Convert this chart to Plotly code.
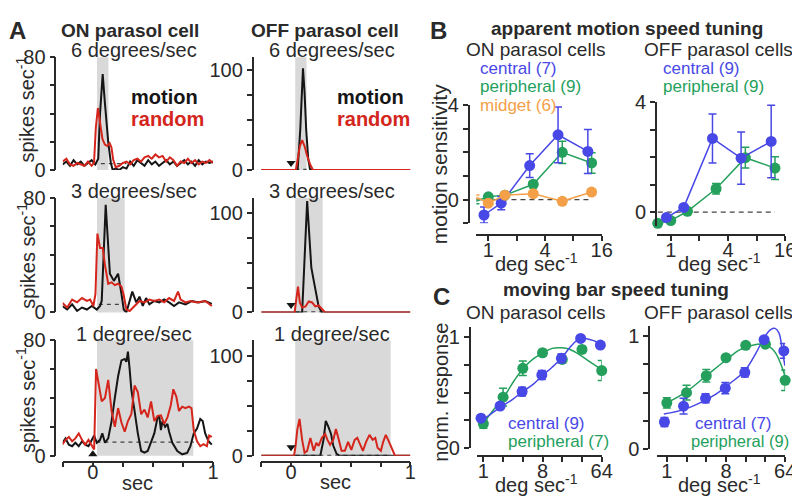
import plotly.graph_objects as go

# ================= Panel A data: PSTHs (time [s], rate [spikes/s]) =================
on_motion_6 = [(-0.25,4),(-0.22,6),(-0.19,3),(-0.16,7),(-0.13,4),(-0.10,6),(-0.07,3),(-0.04,5),(-0.01,7),
               (0.02,4),(0.045,8),(0.06,40),(0.082,68),(0.10,48),(0.128,20),(0.15,5),(0.165,0),(0.19,1),
               (0.22,0),(0.25,2),(0.28,1),(0.31,6),(0.34,3),(0.37,7),(0.40,5),(0.43,3),(0.46,7),(0.49,4),
               (0.52,6),(0.55,3),(0.58,5),(0.61,7),(0.64,4),(0.67,6),(0.70,3),(0.73,5),(0.76,7),(0.79,4),
               (0.82,6),(0.85,3),(0.88,7),(0.91,4),(0.94,6),(0.97,5),(1.0,6)]
on_random_6 = [(-0.25,6),(-0.22,8),(-0.19,4),(-0.16,3),(-0.13,5),(-0.10,4),(-0.07,3),(-0.04,6),(-0.01,3),
               (0.01,5),(0.025,30),(0.042,44),(0.06,32),(0.08,22),(0.10,18),(0.12,17),(0.14,19),(0.155,16),
               (0.17,7),(0.19,2),(0.22,3),(0.25,5),(0.28,6),(0.31,4),(0.34,7),(0.37,8),(0.40,6),(0.43,9),
               (0.46,10),(0.49,8),(0.52,11),(0.55,9),(0.58,10),(0.61,6),(0.64,9),(0.67,7),(0.70,3),(0.73,6),
               (0.76,5),(0.79,8),(0.82,5),(0.85,7),(0.88,4),(0.91,6),(0.94,5),(0.97,7),(1.0,5)]
on_motion_3 = [(-0.254,4.5),(-0.213,2),(-0.172,5.6),(-0.131,1),(-0.09,3.4),(-0.049,2),(-0.008,4.5),(0.033,2),
               (0.06,4.5),(0.074,8),(0.107,75),(0.142,27),(0.175,22),(0.21,27),(0.238,13),(0.257,2),(0.279,0),
               (0.306,9),(0.328,14.5),(0.361,7),(0.388,11),(0.415,4.5),(0.443,10),(0.47,5.6),(0.511,8),
               (0.552,7),(0.593,9),(0.634,7),(0.675,4.5),(0.716,7),(0.77,5.6),(0.825,8),(0.88,7),(0.934,8),(0.989,6)]
on_random_3 = [(-0.254,6.7),(-0.213,3.4),(-0.172,9),(-0.131,7),(-0.09,10),(-0.049,8),(-0.022,9),(0.005,4.5),
               (0.022,13),(0.038,55),(0.06,45),(0.082,45),(0.101,33),(0.128,20),(0.156,21),(0.183,19),(0.21,20),
               (0.238,18),(0.257,12),(0.279,2),(0.306,1),(0.347,4.5),(0.388,8),(0.429,7),(0.47,9),(0.511,8),
               (0.552,9),(0.593,7),(0.634,10),(0.675,8),(0.708,14.5),(0.73,9),(0.77,7),(0.811,8),(0.866,7),
               (0.934,8),(0.989,4.5)]
on_motion_1 = [(-0.254,8.8),(-0.227,12),(-0.199,7.7),(-0.172,6.6),(-0.145,9),(-0.117,6.6),(-0.09,10),(-0.063,7.7),
               (-0.036,6.6),(-0.008,11),(0.011,14),(0.033,9),(0.06,11),(0.079,15.5),(0.101,9),(0.128,12),(0.156,24),
               (0.183,40),(0.21,55),(0.238,66),(0.265,67),(0.279,65),(0.292,72),(0.306,60),(0.32,46),(0.347,31),
               (0.374,15.5),(0.402,3.3),(0.429,2.2),(0.456,3.3),(0.484,9),(0.511,15.5),(0.538,26.5),(0.552,27.6),
               (0.566,17.7),(0.579,24),(0.601,20),(0.62,22),(0.634,16.6),(0.661,9),(0.702,3.3),(0.743,1),(0.784,2),
               (0.811,6.6),(0.839,15.5),(0.866,18.8),(0.893,25.4),(0.913,24),(0.934,15.5),(0.962,10),(0.989,7.7)]
on_random_1 = [(-0.254,7.7),(-0.227,11),(-0.199,13),(-0.172,10),(-0.145,12),(-0.117,15.5),(-0.09,11),(-0.063,7.7),
               (-0.036,11),(-0.008,6.6),(0.011,4.4),(0.027,60),(0.046,51),(0.074,37.6),(0.101,40),(0.128,52.5),
               (0.156,31),(0.183,20),(0.21,33),(0.238,23),(0.265,16.6),(0.292,24),(0.32,28.7),(0.347,48.6),
               (0.374,44),(0.402,28.7),(0.429,32),(0.456,26.5),(0.484,37.6),(0.511,24),(0.538,27.6),(0.566,28),
               (0.593,22),(0.62,26.5),(0.648,35),(0.669,46),(0.694,41),(0.716,31),(0.743,34),(0.77,33),(0.798,34),
               (0.82,33),(0.839,17.7),(0.866,10),(0.893,6.6),(0.921,8),(0.948,6.6),(0.967,14),(0.989,13)]

off_motion_6 = [(-0.25,0),(0.055,0),(0.077,40),(0.088,78),(0.1,102),(0.113,78),(0.127,40),(0.144,11),(0.16,0),(1.0,0)]
off_random_6 = [(-0.25,0),(0.04,0),(0.052,8),(0.074,24),(0.093,30),(0.113,24),(0.135,14),(0.162,5),(0.184,0),(1.0,0)]
off_motion_3 = [(-0.25,0),(0.093,0),(0.135,112),(0.154,77),(0.17,45),(0.19,32),(0.209,19),(0.231,6),(0.258,0),(1.0,0)]
off_random_3 = [(-0.25,0),(0.03,0),(0.044,13),(0.058,26),(0.074,10),(0.093,5),(0.121,6),(0.148,11),(0.176,10),
                (0.203,6),(0.231,7),(0.258,3),(0.286,0),(1.0,0)]
off_motion_1 = [(-0.25,0),(0.245,0),(0.272,16),(0.291,35),(0.313,29),(0.335,22),(0.354,10),(0.382,2),(0.409,0),(1.0,0)]
off_random_1 = [(-0.25,0),(0.025,0),(0.038,10),(0.052,26),(0.071,37),(0.093,16),(0.113,3),(0.135,5),(0.162,18),
                (0.19,5),(0.212,13),(0.231,10),(0.258,18),(0.286,22),(0.305,16),(0.327,11),(0.354,16),(0.376,27),
                (0.396,18),(0.423,5),(0.451,5),(0.478,14),(0.505,6),(0.533,16),(0.555,18),(0.574,13),(0.602,5),
                (0.629,14),(0.657,21),(0.684,16),(0.706,18),(0.725,8),(0.753,5),(0.772,14),(0.794,21),(0.821,14),
                (0.849,5),(0.871,0),(1.0,0)]

stim_6 = [0.035, 0.13]
stim_3 = [0.035, 0.265]
stim_1 = [0.035, 0.835]
on_baseline = [4.5, 5.6, 9.5]
dash_6 = [0.0, 0.28]
dash_3 = [0.05, 0.26]
dash_1 = [0.03, 0.84]
off_baseline = [0.5, 0.5, 0.5]
speed_titles = ["6 degrees/sec", "3 degrees/sec", "1 degree/sec"]

a_time_ticks = [-0.25, 0, 0.25, 0.5, 0.75, 1]
a_time_text = ["", "0", "", "", "", "1"]
a_on_ticks = [0, 20, 40, 60, 80]
a_on_text = ["0", "", "", "", "80"]
a_off_ticks = [0, 25, 50, 75, 100]
a_off_text = ["0", "", "", "", "100"]

# ================= Panel B data: apparent motion speed tuning =================
b_speed_central = [0.9, 1.37, 2.75, 5.5, 11.4]
b_speed_other = [0.73, 1, 1.5, 3, 6.1, 12.5]
b_on_central = [-0.65, -0.15, 1.44, 2.74, 2.04]
b_on_central_err = [0.34, 0.28, 0.5, 1.18, 0.93]
b_on_periph = [-0.07, 0.12, 0.19, 0.65, 2.0, 1.55]
b_on_periph_err = [0.1, 0.1, 0.1, 0.12, 0.47, 0.43]
b_on_midget = [0.12, -0.15, 0.19, 0.25, -0.07, 0.32]
b_on_midget_err = [0.08, 0.1, 0.08, 0.1, 0.12, 0.1]
b_off_central = [-0.2, 0.17, 2.68, 1.96, 2.57]
b_off_central_err = [0.1, 0.08, 0.89, 0.95, 1.32]
b_off_periph = [-0.41, -0.31, 0.03, 0.85, 1.98, 1.6]
b_off_periph_err = [0.05, 0.05, 0.08, 0.19, 0.38, 0.41]
b_xticks = [1, 2, 4, 8, 16]
b_xtext = ["1", "", "4", "", "16"]

# ================= Panel C data: moving bar speed tuning =================
c_speed_central = [0.92, 1.8, 3.9, 7.8, 15.5, 30.5, 61]
c_speed_periph = [1, 2, 4, 8, 16, 32, 64]
c_on_central = [0.27, 0.38, 0.51, 0.66, 0.81, 0.99, 0.93]
c_on_central_err = [0.03, 0.03, 0.04, 0.04, 0.04, 0.02, 0.03]
c_on_periph = [0.22, 0.46, 0.72, 0.86, 0.80, 0.89, 0.70]
c_on_periph_err = [0.04, 0.08, 0.065, 0.03, 0.03, 0.03, 0.09]
c_off_central = [0.24, 0.38, 0.45, 0.54, 0.68, 0.97, 0.87]
c_off_central_err = [0.04, 0.07, 0.04, 0.05, 0.04, 0.02, 0.065]
c_off_periph = [0.41, 0.50, 0.65, 0.81, 0.92, 0.93, 0.61]
c_off_periph_err = [0.045, 0.065, 0.055, 0.02, 0.02, 0.02, 0.09]
# fitted curves
c_on_central_fit_x = [0.93, 1.25, 1.82, 2.8, 3.95, 5.6, 8.1, 11.2, 15.5, 21, 26.6, 33.5, 42, 53, 63]
c_on_central_fit_y = [0.25, 0.30, 0.37, 0.44, 0.51, 0.57, 0.66, 0.73, 0.81, 0.91, 0.97, 0.99, 0.98, 0.96, 0.93]
c_on_periph_fit_x = [0.99, 1.4, 2.05, 2.96, 4.2, 5.9, 8.1, 11.2, 15.5, 21, 30, 42, 56, 66]
c_on_periph_fit_y = [0.22, 0.34, 0.46, 0.61, 0.73, 0.81, 0.86, 0.90, 0.905, 0.89, 0.84, 0.78, 0.73, 0.70]
c_off_central_fit_x = [0.9, 1.8, 3.2, 5.7, 9.1, 15.3, 22.9, 30.6, 38.5, 44.8, 51.4, 57.7, 63.3]
c_off_central_fit_y = [0.31, 0.35, 0.41, 0.49, 0.58, 0.69, 0.85, 0.99, 1.06, 1.07, 1.03, 0.88, 0.74]
c_off_periph_fit_x = [1, 2, 4, 8, 12.9, 20.4, 28.8, 36.4, 45.8, 57.7, 66]
c_off_periph_fit_y = [0.41, 0.51, 0.65, 0.79, 0.88, 0.92, 0.93, 0.91, 0.85, 0.72, 0.61]
c_xticks = [1, 2, 4, 8, 16, 32, 64]
c_xtext = ["1", "", "", "8", "", "", "64"]
c_yticks = [0, 0.25, 0.5, 0.75, 1]
c_ytext = ["0", "", "", "", "1"]

# ================= styling / layout helpers =================
W, H = 800, 497
FONT = "Liberation Sans, Arial, sans-serif"
BLACK = "#151515"
RED = "#d4261c"
BLUE = "#4848e6"
GREEN = "#24a05c"
ORANGE = "#f4a048"
SHADE = "#d9d9d9"
AXC = "#2a2a2a"


def fx(p):
    return p / W


def fy(p):
    return 1 - p / H


fig = go.Figure()
layout = dict(width=W, height=H, margin=dict(l=0, r=0, t=0, b=0),
              paper_bgcolor="white", plot_bgcolor="rgba(0,0,0,0)",
              showlegend=False, font=dict(family=FONT, size=20, color=AXC))

axis_common = dict(showgrid=False, zeroline=False, showline=True, linecolor=AXC, linewidth=1.5,
                   ticks="outside", ticklen=5, tickwidth=1.5, tickcolor=AXC,
                   tickfont=dict(family=FONT, size=20, color=AXC), fixedrange=True)


def set_axis(name, **kw):
    d = dict(axis_common)
    d.update(kw)
    layout[name] = d


# ---------- Panel A axes ----------
a_rows = [(40, 158), (187, 307), (336, 457)]
off_tops = [113, 115.4, 116.3]
for r, (top, bot) in enumerate(a_rows):
    i_on, i_off = 2 * r + 1, 2 * r + 2
    for idx, (x0, x1, ypos, ytop, tv, tt) in zip(
            (i_on, i_off),
            ((55.5, 208, 48, 80, a_on_ticks, a_on_text),
             (256.75, 408, 248, off_tops[r], a_off_ticks, a_off_text))):
        xn = "xaxis" if idx == 1 else f"xaxis{idx}"
        yn = "yaxis" if idx == 1 else f"yaxis{idx}"
        if r == 2:
            set_axis(xn, domain=[fx(x0), fx(x1)], range=[-0.25, 1.0], anchor="free",
                     position=fy(463), tickvals=a_time_ticks, ticktext=a_time_text,
                     ticklabelstandoff=-12)
        else:
            set_axis(xn, domain=[fx(x0), fx(x1)], range=[-0.25, 1.0], visible=False,
                     anchor=f"y{idx}")
        set_axis(yn, domain=[fy(bot), fy(top)], range=[0, ytop], anchor="free",
                 position=fx(ypos), tickvals=tv, ticktext=tt)

# ---------- Panel B axes ----------
set_axis("xaxis7", type="log", domain=[fx(475), fx(602)], range=[-0.1257, 1.2041],
         anchor="free", position=fy(226), tickvals=b_xticks, ticktext=b_xtext, ticklabelstandoff=-8)
set_axis("yaxis7", domain=[fy(213.75), fy(90)], range=[-1, 4], anchor="free", position=fx(467),
         tickvals=[-1, 0, 1, 2, 3, 4], ticktext=["", "0", "", "", "", "4"])
set_axis("xaxis8", type="log", domain=[fx(658), fx(788)], range=[-0.145, 1.2041],
         anchor="free", position=fy(226), tickvals=b_xticks, ticktext=b_xtext, ticklabelstandoff=-8)
set_axis("yaxis8", domain=[fy(216.4), fy(87)], range=[-0.5, 4], anchor="free", position=fx(657),
         tickvals=[0, 1, 2, 3, 4], ticktext=["0", "", "", "", "4"])

# ---------- Panel C axes ----------
set_axis("xaxis9", type="log", domain=[fx(476), fx(602)], range=[-0.0904, 1.8062],
         anchor="free", position=fy(457), tickvals=c_xticks, ticktext=c_xtext, ticklabelstandoff=-8)
set_axis("yaxis9", domain=[fy(449), fy(322)], range=[0, 1.095], anchor="free", position=fx(468),
         tickvals=c_yticks, ticktext=c_ytext)
set_axis("xaxis10", type="log", domain=[fx(658), fx(788)], range=[-0.1506, 1.8062],
         anchor="free", position=fy(457), tickvals=c_xticks, ticktext=c_xtext, ticklabelstandoff=-8)
set_axis("yaxis10", domain=[fy(450), fy(321)], range=[0, 1.093], anchor="free", position=fx(650),
         tickvals=c_yticks, ticktext=c_ytext)

fig.update_layout(**layout)


def ref(i):
    return ("x" if i == 1 else f"x{i}"), ("y" if i == 1 else f"y{i}")


# ---------- Panel A traces ----------
on_sets = [(on_motion_6, on_random_6), (on_motion_3, on_random_3), (on_motion_1, on_random_1)]
off_sets = [(off_motion_6, off_random_6), (off_motion_3, off_random_3), (off_motion_1, off_random_1)]
stims = [stim_6, stim_3, stim_1]
dashes = [dash_6, dash_3, dash_1]
on_tri_y = [-4.0, -4.0, 1.0]
off_tri_y = [7.0, 7.5, 8.5]

for r in range(3):
    for col, sets in ((0, on_sets), (1, off_sets)):
        idx = 2 * r + 1 + col
        xr, yr = ref(idx)
        fig.add_shape(type="rect", xref=xr, yref=f"{yr} domain", x0=stims[r][0], x1=stims[r][1],
                      y0=0, y1=1, fillcolor=SHADE, line=dict(width=0), layer="below")
        if col == 0:
            bx = dashes[r]
            by = [on_baseline[r], on_baseline[r]]
        else:
            bx = stims[r]
            by = [off_baseline[r], off_baseline[r]]
        fig.add_trace(go.Scatter(x=bx, y=by, mode="lines", xaxis=xr, yaxis=yr,
                                 line=dict(color="#444444", width=1.3, dash="4px,4px"), hoverinfo="skip"))
        mot, rnd = sets[r]
        for series, color in ((mot, BLACK), (rnd, RED)):
            t, v = zip(*series)
            fig.add_trace(go.Scatter(x=list(t), y=list(v), mode="lines", xaxis=xr, yaxis=yr,
                                     line=dict(color=color, width=2), hoverinfo="skip"))
        fig.add_trace(go.Scatter(x=[0], y=[on_tri_y[r] if col == 0 else off_tri_y[r]], mode="markers",
                                 xaxis=xr, yaxis=yr, cliponaxis=False,
                                 marker=dict(symbol="triangle-up" if col == 0 else "triangle-down",
                                             size=8, color=BLACK, line=dict(width=0)),
                                 hoverinfo="skip"))


def err_series(x, y, e, color, xa, ya, size=11, mode="lines+markers"):
    fig.add_trace(go.Scatter(x=x, y=y, mode=mode, xaxis=xa, yaxis=ya, cliponaxis=False,
                             line=dict(color=color, width=1.5),
                             marker=dict(size=size, color=color, line=dict(width=0)),
                             error_y=dict(type="data", array=e, color=color, thickness=1.5, width=4),
                             hoverinfo="skip"))


# ---------- Panel B traces ----------
fig.add_trace(go.Scatter(x=[b_speed_other[0], b_speed_other[-1]], y=[0, 0], mode="lines", xaxis="x7",
                         yaxis="y7", line=dict(color="#444444", width=1.3, dash="5px,4px"), hoverinfo="skip"))
fig.add_trace(go.Scatter(x=[b_speed_other[0], b_speed_other[-1]], y=[0, 0], mode="lines", xaxis="x8",
                         yaxis="y8", line=dict(color="#444444", width=1.3, dash="5px,4px"), hoverinfo="skip"))
err_series(b_speed_other, b_on_periph, b_on_periph_err, GREEN, "x7", "y7")
err_series(b_speed_central, b_on_central, b_on_central_err, BLUE, "x7", "y7")
err_series(b_speed_other, b_on_midget, b_on_midget_err, ORANGE, "x7", "y7")
err_series(b_speed_other, b_off_periph, b_off_periph_err, GREEN, "x8", "y8")
err_series(b_speed_central, b_off_central, b_off_central_err, BLUE, "x8", "y8")

# ---------- Panel C traces ----------
for fx_, fy_, color, xa, ya in ((c_on_periph_fit_x, c_on_periph_fit_y, GREEN, "x9", "y9"),
                                (c_on_central_fit_x, c_on_central_fit_y, BLUE, "x9", "y9"),
                                (c_off_periph_fit_x, c_off_periph_fit_y, GREEN, "x10", "y10"),
                                (c_off_central_fit_x, c_off_central_fit_y, BLUE, "x10", "y10")):
    fig.add_trace(go.Scatter(x=fx_, y=fy_, mode="lines", xaxis=xa, yaxis=ya,
                             line=dict(color=color, width=1.5, shape="spline", smoothing=1.0),
                             hoverinfo="skip"))
err_series(c_speed_periph, c_on_periph, c_on_periph_err, GREEN, "x9", "y9", size=11, mode="markers")
err_series(c_speed_central, c_on_central, c_on_central_err, BLUE, "x9", "y9", size=11, mode="markers")
err_series(c_speed_periph, c_off_periph, c_off_periph_err, GREEN, "x10", "y10", size=11, mode="markers")
err_series(c_speed_central, c_off_central, c_off_central_err, BLUE, "x10", "y10", size=11, mode="markers")


# ---------- text ----------
def ann(text, x, y, size=20, color=AXC, bold=False, xanchor="center", angle=0):
    fig.add_annotation(text=f"<b>{text}</b>" if bold else text, x=fx(x), y=fy(y), xref="paper",
                       yref="paper", xanchor=xanchor, yanchor="middle", showarrow=False,
                       textangle=angle, font=dict(family=FONT, size=size, color=color))


ann("A", 10, 12, size=24, bold=True)
ann("ON parasol cell", 124, 12, size=19, bold=True)
ann("OFF parasol cell", 321, 12, size=19, bold=True)
title_y = [32, 180, 330]
for r in range(3):
    ann(speed_titles[r], 128, title_y[r])
    ann(speed_titles[r], 329, title_y[r])
ann("motion", 123, 82, bold=True, xanchor="left", color=BLACK)
ann("random", 123, 105, bold=True, xanchor="left", color=RED)
ann("motion", 332, 82, bold=True, xanchor="left", color=BLACK)
ann("random", 332, 105, bold=True, xanchor="left", color=RED)
for yc in (95, 248, 399):
    ann("spikes sec<sup>-1</sup>", 18, yc, angle=-90)
ann("sec", 131, 485)
ann("sec", 332, 484)

ann("B", 437, 12, size=24, bold=True)
ann("apparent motion speed tuning", 628, 10, size=19, bold=True)
ann("ON parasol cells", 535, 32, size=19)
ann("OFF parasol cells", 720, 32, size=19)
ann("central (7)", 477, 52, size=17, color=BLUE, xanchor="left")
ann("peripheral (9)", 477, 71, size=17, color=GREEN, xanchor="left")
ann("midget (6)", 477, 90, size=17, color=ORANGE, xanchor="left")
ann("central (9)", 662, 52, size=17, color=BLUE, xanchor="left")
ann("peripheral (9)", 662, 71, size=17, color=GREEN, xanchor="left")
ann("motion sensitivity", 437, 152, size=21, angle=-90)
ann("deg sec<sup>-1</sup>", 536, 255)
ann("deg sec<sup>-1</sup>", 721, 255)

ann("C", 440, 290, size=24, bold=True)
ann("moving bar speed tuning", 616, 283, size=19, bold=True)
ann("ON parasol cells", 535, 307, size=19)
ann("OFF parasol cells", 720, 307, size=19)
ann("norm. response", 439, 390, size=20, angle=-90)
ann("central (9)", 505, 423, size=17, color=BLUE, xanchor="left")
ann("peripheral (7)", 505, 442, size=17, color=GREEN, xanchor="left")
ann("central (7)", 695, 423, size=17, color=BLUE, xanchor="left")
ann("peripheral (9)", 691, 442, size=16.5, color=GREEN, xanchor="left")
ann("deg sec<sup>-1</sup>", 536, 486)
ann("deg sec<sup>-1</sup>", 721, 486)

fig.write_html("out.html")
